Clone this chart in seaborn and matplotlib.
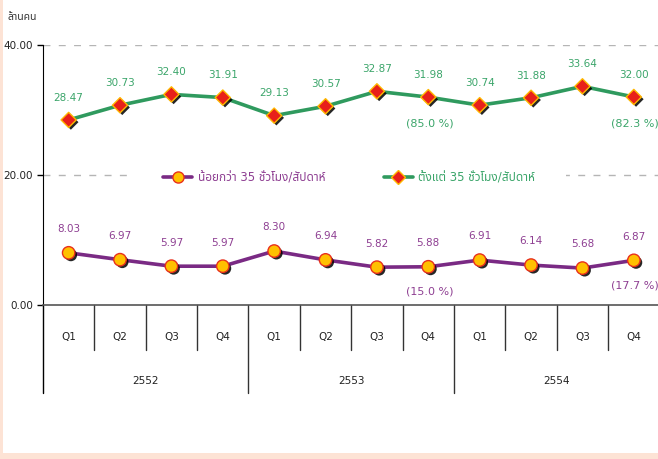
import matplotlib
matplotlib.use("Agg")
import matplotlib.pyplot as plt
import matplotlib.patheffects as pe
from matplotlib.lines import Line2D
from matplotlib.patches import Rectangle
import seaborn as sns
import pandas as pd
import numpy as np

# data
quarters = ['Q1', 'Q2', 'Q3', 'Q4'] * 3
years = ['2552', '2553', '2554']
under35 = [8.03, 6.97, 5.97, 5.97, 8.30, 6.94, 5.82, 5.88, 6.91, 6.14, 5.68, 6.87]
over35 = [28.47, 30.73, 32.40, 31.91, 29.13, 30.57, 32.87, 31.98, 30.74, 31.88, 33.64, 32.00]
pct_under = {7: '(15.0 %)', 11: '(17.7 %)'}
pct_over = {7: '(85.0 %)', 11: '(82.3 %)'}
name_under = 'น้อยกว่า 35 ชั่วโมง/สัปดาห์'
name_over = 'ตั้งแต่ 35 ชั่วโมง/สัปดาห์'
yticks = [0, 20, 40]

df = pd.DataFrame({'idx': np.arange(12), 'under': under35, 'over': over35})

sns.set_style('white')
plt.rcParams['font.family'] = ['DejaVu Sans', 'Noto Sans Thai', 'Noto Sans Thai UI',
                               'Loma', 'Garuda', 'Norasi', 'Waree', 'Tlwg Typo']

purple = '#7A2A84'
purple_txt = '#8E3F92'
green = '#2F9A5E'
green_txt = '#3BA56A'

fig = plt.figure(figsize=(6.58, 4.59), dpi=100, facecolor='#FDE3D5')
fig.patches.append(Rectangle((0.0046, 0.014), 1.0, 1.0, transform=fig.transFigure,
                             facecolor='white', edgecolor='none', zorder=-5))
ax = fig.add_axes([0.0653, 0.3355, 0.937, 0.5665])
ax.set_facecolor('none')

sns.lineplot(data=df, x='idx', y='under', color=purple, linewidth=2.6, ax=ax, zorder=3)
sns.lineplot(data=df, x='idx', y='over', color=green, linewidth=2.6, ax=ax, zorder=3)

shadow = [pe.SimplePatchShadow(offset=(1.6, -1.6), shadow_rgbFace='black', alpha=0.85), pe.Normal()]
sns.scatterplot(data=df, x='idx', y='under', marker='o', s=80, color='#FFC000',
                edgecolor='#E8301C', linewidth=1.0, ax=ax, zorder=4, path_effects=shadow)
sns.scatterplot(data=df, x='idx', y='over', marker='D', s=60, color='#E8201A',
                edgecolor='#FFB800', linewidth=1.0, ax=ax, zorder=4, path_effects=shadow)

for i in range(12):
    ax.annotate(f'{under35[i]:.2f}', (i, under35[i]), xytext=(0, 17), textcoords='offset points',
                ha='center', va='center', fontsize=7.5, color=purple_txt)
    ax.annotate(f'{over35[i]:.2f}', (i, over35[i]), xytext=(0, 16), textcoords='offset points',
                ha='center', va='center', fontsize=7.5, color=green_txt)
for i, t in pct_under.items():
    ax.annotate(t, (i, under35[i]), xytext=(1, -18), textcoords='offset points',
                ha='center', va='center', fontsize=8, color=purple_txt, annotation_clip=False)
for i, t in pct_over.items():
    ax.annotate(t, (i, over35[i]), xytext=(1, -19), textcoords='offset points',
                ha='center', va='center', fontsize=8, color=green_txt, annotation_clip=False)

ax.set_xlim(-0.5, 11.5)
ax.set_ylim(0, 40)
ax.set_yticks(yticks)
ax.set_yticklabels([f'{v:.2f}' for v in yticks], fontsize=7.5, color='#222222')
ax.tick_params(axis='y', length=4, width=1, color='black', pad=3, left=True)
ax.set_xticks([])
ax.set_xlabel('')
ax.set_ylabel('')
for v in yticks[1:]:
    ax.axhline(v, color='#B5B5B5', linestyle=(0, (5, 6)), linewidth=1.0, zorder=1)
for s in ['top', 'right']:
    ax.spines[s].set_visible(False)
ax.spines['left'].set_color('black')
ax.spines['bottom'].set_color('#555555')
ax.spines['bottom'].set_linewidth(1.2)

# two-level category axis
trans = ax.get_xaxis_transform()
for k in range(1, 12):
    low = -0.338 if k % 4 == 0 else -0.173
    ax.plot([k - 0.5, k - 0.5], [0, low], transform=trans, color='#333333', linewidth=1.0, clip_on=False)
ax.plot([-0.5, -0.5], [0, -0.338], transform=trans, color='black', linewidth=1.0, clip_on=False)
for i, q in enumerate(quarters):
    ax.text(i, -0.123, q, transform=trans, ha='center', va='center', fontsize=7.5, color='#222222')
for j, y in enumerate(years):
    ax.text(4 * j + 1.5, -0.293, y, transform=trans, ha='center', va='center', fontsize=7.5, color='#222222')

fig.text(0.012, 0.963, 'ล้านคน', ha='left', va='center', fontsize=7.5, color='#333333')

# white box behind the legend hides the gridline there
ax.add_patch(Rectangle((0.138, 0.44), 0.71, 0.10, transform=ax.transAxes,
                       facecolor='white', edgecolor='none', zorder=2))
handles = [
    Line2D([], [], color=purple, linewidth=2.6, marker='o', markersize=8,
           markerfacecolor='#FFC000', markeredgecolor='#E8301C'),
    Line2D([], [], color=green, linewidth=2.6, marker='D', markersize=7,
           markerfacecolor='#E8201A', markeredgecolor='#FFB800'),
]
leg = ax.legend(handles, [name_under, name_over], loc='center', bbox_to_anchor=(0.497, 0.488),
                ncol=2, frameon=False, fontsize=8.5, handlelength=2.4, columnspacing=5.0,
                handletextpad=0.5)
leg.set_zorder(5)
leg.get_texts()[0].set_color(purple_txt)
leg.get_texts()[1].set_color(green_txt)

fig.savefig('out.png', dpi=100, facecolor=fig.get_facecolor())
